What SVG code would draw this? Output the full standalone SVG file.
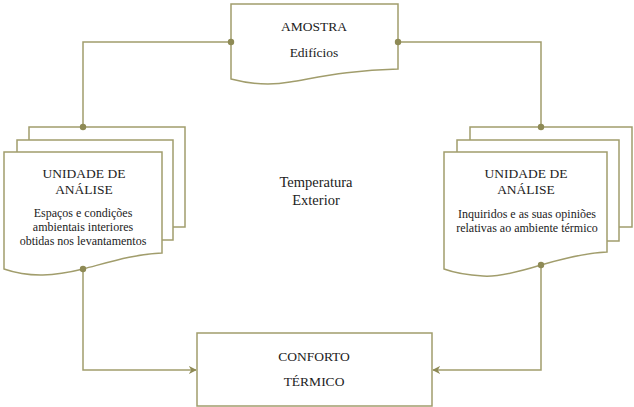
<svg xmlns="http://www.w3.org/2000/svg" width="634" height="407" viewBox="0 0 634 407">
<defs>
<style>
.sh{fill:#fff;stroke:#a19d6c;stroke-width:1.5}
.ln{fill:none;stroke:#a19d6c;stroke-width:1.5}
.dot{fill:#8e8a55}
text{font-family:"Liberation Serif","Times New Roman",serif;fill:#222;text-anchor:middle}
.h{font-size:13.5px}
.b{font-size:12px}
.c{font-size:14.5px}
</style>
<marker id="arr" viewBox="0 0 10 10" refX="9" refY="5" markerWidth="8" markerHeight="8" markerUnits="userSpaceOnUse" orient="auto">
<path d="M0,0 L10,5 L0,10 L3,5 Z" fill="#8e8a55"/>
</marker>
</defs>
<g id="connectors">
<path class="ln" d="M231,42 H83 V127"/>
<path class="ln" d="M398,42 H541 V127"/>
<path class="ln" d="M83,269 V370 H196" marker-end="url(#arr)"/>
<path class="ln" d="M541,265 V370 H433" marker-end="url(#arr)"/>
</g>
<g id="amostra">
<path class="sh" d="M231,4 H398 V69 C350,70 320,77 290,82 C268,86 250,84 231,79 Z"/>
<text class="h" x="314" y="31">AMOSTRA</text>
<text class="h" x="314" y="57">Edifícios</text>
</g>
<g id="unidade-esq">
<rect class="sh" x="29" y="127" width="156" height="100"/>
<rect class="sh" x="17" y="140" width="156" height="100"/>
<path class="sh" d="M4,152 H162 V253 C135,254 110,262 83,269 C55,276 30,278 4,269 Z"/>
<text class="h" x="84" y="178">UNIDADE DE</text>
<text class="h" x="84" y="194">ANÁLISE</text>
<text class="b" x="83" y="217">Espaços e condições</text>
<text class="b" x="83" y="231">ambientais interiores</text>
<text class="b" x="83" y="245">obtidas nos levantamentos</text>
</g>
<g id="unidade-dir">
<rect class="sh" x="470" y="127" width="162" height="100"/>
<rect class="sh" x="457" y="140" width="162" height="101"/>
<path class="sh" d="M444,152 H607 V252 C585,253 565,258 541,265 C515,273 495,277 483,276 C465,275 455,273 444,269 Z"/>
<text class="h" x="526" y="178">UNIDADE DE</text>
<text class="h" x="526" y="194">ANÁLISE</text>
<text class="b" x="527" y="218">Inquiridos e as suas opiniões</text>
<text class="b" x="527" y="232">relativas ao ambiente térmico</text>
</g>
<g id="conforto">
<rect class="sh" x="197" y="333" width="235" height="73"/>
<text class="h" x="314" y="361">CONFORTO</text>
<text class="h" x="314" y="386">TÉRMICO</text>
</g>
<g id="temperatura">
<text class="c" x="316" y="187">Temperatura</text>
<text class="c" x="316" y="205">Exterior</text>
</g>
<g id="dots">
<circle class="dot" cx="231" cy="42" r="3.2"/>
<circle class="dot" cx="398" cy="42" r="3.2"/>
<circle class="dot" cx="83" cy="127" r="3.2"/>
<circle class="dot" cx="541" cy="127" r="3.2"/>
<circle class="dot" cx="83" cy="269" r="3.2"/>
<circle class="dot" cx="541" cy="265" r="3.2"/>
</g>
</svg>
